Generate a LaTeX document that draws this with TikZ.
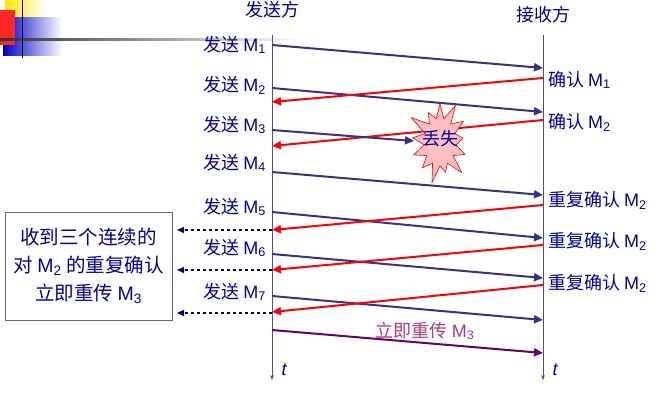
\documentclass[tikz,border=0pt]{standalone}
\usepackage{fontspec}
\setmainfont{Liberation Sans}
\newfontfamily\cjk{Noto Sans CJK SC}
\usetikzlibrary{shapes.misc,shapes.symbols,arrows.meta}
\newcommand{\Msub}[1]{{\normalfont M\textsubscript{#1}}}
\begin{document}
\begin{tikzpicture}[x=1pt,y=-1pt,font=\cjk\fontsize{18}{20}\selectfont,
 snd/.style={draw=blue!45!black!80,line width=2pt,-{Triangle[length=9pt,width=8pt]}},
 ack/.style={draw=red,line width=2pt,-{Triangle[length=9pt,width=8pt]}},
 dsh/.style={draw=blue!50!black,line width=1.3pt,dashed,-{Triangle[length=7pt,width=6pt]}},
 lab/.style={text=blue!65!black,inner sep=1pt}]
\useasboundingbox (0,0) rectangle (668,407);
% decoration
\shade[left color=yellow!80!orange,right color=white] (5,0) rectangle (45,17);
\shade[left color=blue!80!black,right color=white] (3,17) rectangle (62,55);
\fill[red!85] (0,10) rectangle (15,45);
\shade[left color=black!80,right color=white] (0,38) rectangle (300,40);
\draw[line width=1pt] (22,0) -- (22,58);
% timelines
\coordinate (s0) at (272,35); \coordinate (s1) at (272,380);
\coordinate (r0) at (543,35); \coordinate (r1) at (543,380);
\draw[blue!50!black!70,-{Stealth[length=5pt]}] (s0) -- (s1);
\draw[blue!50!black!70,-{Stealth[length=5pt]}] (r0) -- (r1);
\node[lab] (t1) at (284,370) {\normalfont\itshape t};
\node[lab] (t2) at (555,370) {\normalfont\itshape t};
\node[lab] (hs) at (272,10) {发送方};
\node[lab] (hr) at (543,15) {接收方};
% send labels
\foreach \y/\i in {45/1,85/2,125/3,163/4,207/5,248/6,292/7}
  \node[lab,anchor=east] (m\i) at (267,\y) {发送 \Msub{\i}};
% sends
\coordinate (a1) at (272,45); \coordinate (b1) at (543,68);
\coordinate (a2) at (272,88); \coordinate (b2) at (543,112);
\coordinate (a3) at (272,130); \coordinate (b3) at (414,141);
\coordinate (a4) at (272,172); \coordinate (b4) at (543,195);
\coordinate (a5) at (272,212); \coordinate (b5) at (543,238);
\coordinate (a6) at (272,254); \coordinate (b6) at (543,278);
\coordinate (a7) at (272,296); \coordinate (b7) at (543,320);
\foreach \i in {1,2,4,5,6,7} \draw[snd] (a\i) -- (b\i);
% acks
\coordinate (c1) at (543,78); \coordinate (d1) at (272,102);
\coordinate (c2) at (543,120); \coordinate (d2) at (272,146);
\coordinate (c3) at (543,205); \coordinate (d3) at (272,230);
\coordinate (c4) at (543,245); \coordinate (d4) at (272,270);
\coordinate (c5) at (543,285); \coordinate (d5) at (272,312);
\foreach \i in {1,...,5} \draw[ack] (c\i) -- (d\i);
% burst
\node[starburst,starburst points=13,starburst point height=20pt,fill=red!25,draw=red,line width=0.6pt,minimum width=72pt,minimum height=88pt,inner sep=0pt] (burst) at (440,142) {};
\draw[snd] (a3) -- (b3);
\node[lab] (bl) at (440,139) {丢失};
\node[lab,anchor=west] (k1) at (547,80) {确认 \Msub{1}};
\node[lab,anchor=west] (k2) at (547,122) {确认 \Msub{2}};
\node[lab,anchor=west] (k3) at (547,200) {重复确认 \Msub{2}};
\node[lab,anchor=west] (k4) at (547,241) {重复确认 \Msub{2}};
\node[lab,anchor=west] (k5) at (547,283) {重复确认 \Msub{2}};
% retransmit
\coordinate (p0) at (272,330); \coordinate (p1) at (543,353);
\draw[draw=violet!80!black,line width=2pt,-{Triangle[length=9pt,width=8pt]}] (p0) -- (p1);
\node[text=magenta!70!black] (pl) at (425,331) {立即重传 \Msub{3}};
% box
\node[draw=black!60,fill=white,minimum width=167pt,minimum height=108pt,align=center,text=blue!65!black,font=\cjk\fontsize{19.5}{28}\selectfont] (box) at (88.5,266) {收到三个连续的\\对 \Msub{2} 的重复确认\\立即重传 \Msub{3}};
\coordinate (e1) at (272,230); \coordinate (e2) at (272,270); \coordinate (e3) at (272,313);
\coordinate (f1) at (177,230); \coordinate (f2) at (177,270); \coordinate (f3) at (177,313);
\foreach \i in {1,2,3} \draw[dsh] (e\i) -- (f\i);
\end{tikzpicture}
\end{document}
